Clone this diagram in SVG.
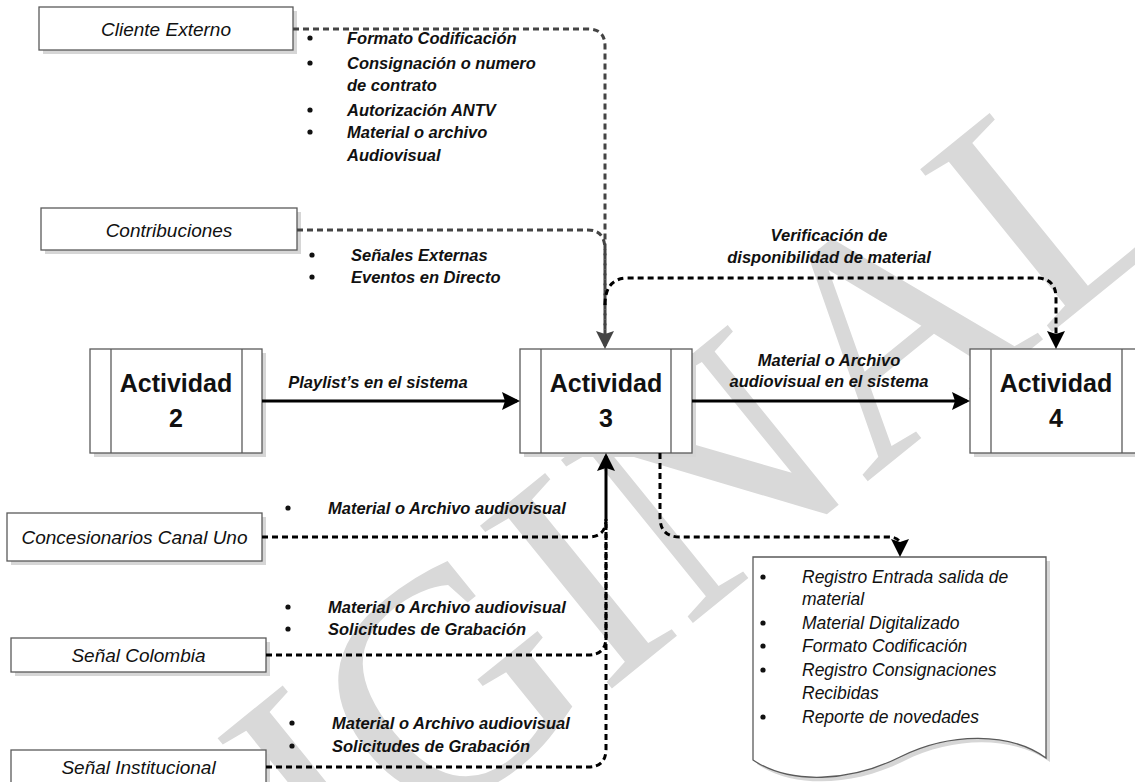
<svg xmlns="http://www.w3.org/2000/svg" width="1135" height="782" viewBox="0 0 1135 782">
<style>
.bg{fill:#ffffff}
.wm{font-family:"Liberation Serif","Times New Roman",serif;font-size:320px;fill:#d9d9d9}
.box{fill:#ffffff;stroke:#5a5a5a;stroke-width:1.3}
.sh{fill:#d6d6d6}
.in{stroke:#5a5a5a;stroke-width:1.3}
.lbl{font-family:"Liberation Sans",Arial,sans-serif;font-style:italic;font-size:19px;fill:#111;text-anchor:middle}
.act{font-family:"Liberation Sans",Arial,sans-serif;font-weight:bold;font-size:25px;fill:#111;text-anchor:middle}
.bi{font-family:"Liberation Sans",Arial,sans-serif;font-style:italic;font-weight:bold;font-size:16.5px;fill:#111}
.bic{font-family:"Liberation Sans",Arial,sans-serif;font-style:italic;font-weight:bold;font-size:16.5px;fill:#111;text-anchor:middle}
.doc{font-family:"Liberation Sans",Arial,sans-serif;font-style:italic;font-size:17.5px;fill:#111}
.dot{fill:#111}
.d{fill:none;stroke:#000;stroke-width:3;stroke-dasharray:6 4}
.dg{fill:none;stroke:#444;stroke-width:3;stroke-dasharray:6 4}
.s{fill:none;stroke:#000;stroke-width:3}
</style>
<defs>
<marker id="ah" viewBox="0 0 18 18" markerWidth="18" markerHeight="18" refX="15" refY="9" orient="auto" markerUnits="userSpaceOnUse"><path d="M0,0 L18,9 L0,18 L3,9 z" fill="#000"/></marker>
<marker id="ahg" viewBox="0 0 18 18" markerWidth="18" markerHeight="18" refX="15" refY="9" orient="auto" markerUnits="userSpaceOnUse"><path d="M0,0 L18,9 L0,18 L3,9 z" fill="#444"/></marker>
</defs>
<rect class="bg" x="0" y="0" width="1135" height="782"/>
<text class="wm" transform="translate(-5,1188) rotate(-39)">ORIGINAL</text>

<g id="cliente-externo">
<rect class="sh" x="43" y="11" width="254" height="43"/>
<rect class="box" x="39" y="7" width="254" height="43"/>
<text class="lbl" x="166" y="36">Cliente Externo</text>
</g>
<g id="contribuciones">
<rect class="sh" x="45" y="212" width="256" height="42"/>
<rect class="box" x="41" y="208" width="256" height="42"/>
<text class="lbl" x="169" y="237">Contribuciones</text>
</g>
<g id="actividad-2">
<rect class="sh" x="94" y="353" width="172" height="104"/>
<rect class="box" x="90" y="349" width="172" height="104"/>
<line class="in" x1="111" y1="349" x2="111" y2="453"/>
<line class="in" x1="242" y1="349" x2="242" y2="453"/>
<text class="act" x="176" y="392">Actividad</text>
<text class="act" x="176" y="427">2</text>
</g>
<g id="actividad-3">
<rect class="sh" x="524" y="353" width="172" height="104"/>
<rect class="box" x="520" y="349" width="172" height="104"/>
<line class="in" x1="541" y1="349" x2="541" y2="453"/>
<line class="in" x1="671" y1="349" x2="671" y2="453"/>
<text class="act" x="606" y="392">Actividad</text>
<text class="act" x="606" y="427">3</text>
</g>
<g id="actividad-4">
<rect class="sh" x="974" y="353" width="172" height="104"/>
<rect class="box" x="970" y="349" width="172" height="104"/>
<line class="in" x1="991" y1="349" x2="991" y2="453"/>
<line class="in" x1="1122" y1="349" x2="1122" y2="453"/>
<text class="act" x="1056" y="392">Actividad</text>
<text class="act" x="1056" y="427">4</text>
</g>
<g id="concesionarios-canal-uno">
<rect class="sh" x="11" y="517" width="255" height="48"/>
<rect class="box" x="7" y="513" width="255" height="48"/>
<text class="lbl" x="134.5" y="544">Concesionarios Canal Uno</text>
</g>
<g id="senal-colombia">
<rect class="sh" x="15" y="642" width="255" height="34"/>
<rect class="box" x="11" y="638" width="255" height="34"/>
<text class="lbl" x="138.5" y="662">Señal Colombia</text>
</g>
<g id="senal-institucional">
<rect class="sh" x="15" y="754" width="255" height="40"/>
<rect class="box" x="11" y="750" width="255" height="40"/>
<text class="lbl" x="138.5" y="774">Señal Institucional</text>
</g>
<g id="documento">
<path class="sh" transform="translate(4,4)" d="M753,557 H1046 V758 C1010,732 950,732 900,757 C850,782 790,785 753,760 Z"/>
<path class="box" d="M753,557 H1046 V758 C1010,732 950,732 900,757 C850,782 790,785 753,760 Z"/>
<circle class="dot" cx="763" cy="577" r="2.6"/>
<circle class="dot" cx="763" cy="623" r="2.6"/>
<circle class="dot" cx="763" cy="646" r="2.6"/>
<circle class="dot" cx="763" cy="670" r="2.6"/>
<circle class="dot" cx="763" cy="717" r="2.6"/>
<text class="doc" x="802" y="583">Registro Entrada salida de</text>
<text class="doc" x="802" y="605">material</text>
<text class="doc" x="802" y="629">Material Digitalizado</text>
<text class="doc" x="802" y="652">Formato Codificación</text>
<text class="doc" x="802" y="676">Registro Consignaciones</text>
<text class="doc" x="802" y="699">Recibidas</text>
<text class="doc" x="802" y="723">Reporte de novedades</text>
</g>

<g id="connectors">
<path class="dg" d="M293,29 H588 Q605,29 605,46 V346" marker-end="url(#ahg)"/>
<path class="dg" d="M297,230 H588 Q605,230 605,250 V346"/>
<path class="d" d="M605,305 Q605,278 628,278 H1036 Q1056,278 1056,298 V346" marker-end="url(#ah)"/>
<path class="s" d="M262,401 H517" marker-end="url(#ah)"/>
<path class="s" d="M692,401 H967" marker-end="url(#ah)"/>
<path class="d" d="M262,537 H588 Q606,537 606,519"/>
<path class="s" d="M606,521 V456" marker-end="url(#ah)"/>
<path class="d" d="M266,655 H588 Q606,655 606,637 V521"/>
<path class="d" d="M266,767 H588 Q606,767 606,749 V521"/>
<path class="d" d="M660,453 V517 Q660,537 680,537 H888 Q900,537 900,545 V554" marker-end="url(#ah)"/>
</g>

<g id="labels">
<circle class="dot" cx="310" cy="38" r="2.6"/>
<circle class="dot" cx="310" cy="63" r="2.6"/>
<circle class="dot" cx="310" cy="110" r="2.6"/>
<circle class="dot" cx="310" cy="132" r="2.6"/>
<text class="bi" x="347" y="44">Formato Codificación</text>
<text class="bi" x="347" y="69">Consignación o numero</text>
<text class="bi" x="347" y="91">de contrato</text>
<text class="bi" x="347" y="116">Autorización ANTV</text>
<text class="bi" x="347" y="138">Material o archivo</text>
<text class="bi" x="347" y="161">Audiovisual</text>
<circle class="dot" cx="312" cy="255" r="2.6"/>
<circle class="dot" cx="312" cy="277" r="2.6"/>
<text class="bi" x="351" y="261">Señales Externas</text>
<text class="bi" x="351" y="283">Eventos en Directo</text>
<text class="bic" x="829" y="241">Verificación de</text>
<text class="bic" x="829" y="263">disponibilidad de material</text>
<text class="bic" x="378" y="388">Playlist’s en el sistema</text>
<text class="bic" x="829" y="366">Material o Archivo</text>
<text class="bic" x="829" y="387">audiovisual en el sistema</text>
<circle class="dot" cx="288" cy="508" r="2.6"/>
<text class="bi" x="328" y="514">Material o Archivo audiovisual</text>
<circle class="dot" cx="288" cy="607" r="2.6"/>
<circle class="dot" cx="288" cy="629" r="2.6"/>
<text class="bi" x="328" y="613">Material o Archivo audiovisual</text>
<text class="bi" x="328" y="635">Solicitudes de Grabación</text>
<circle class="dot" cx="292" cy="723" r="2.6"/>
<circle class="dot" cx="292" cy="746" r="2.6"/>
<text class="bi" x="332" y="729">Material o Archivo audiovisual</text>
<text class="bi" x="332" y="752">Solicitudes de Grabación</text>
</g>
</svg>
